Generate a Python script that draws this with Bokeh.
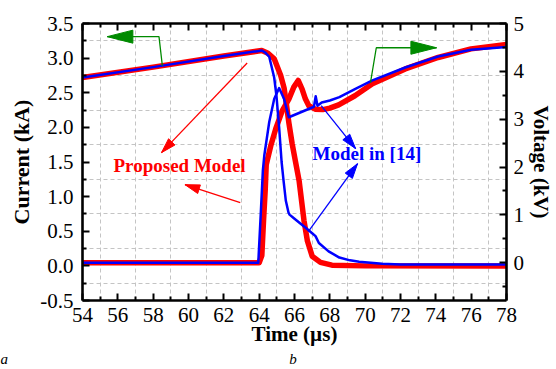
import math
from bokeh.plotting import figure
from bokeh.models import Range1d, LinearAxis, FixedTicker, Label, Title
from bokeh.embed import file_html
from bokeh.resources import INLINE

# ---------------- data ----------------
x_tick_values = [54, 56, 58, 60, 62, 64, 66, 68, 70, 72, 74, 76, 78]
x_tick_labels = ["54", "56", "58", "60", "62", "64", "66", "68", "70", "72", "74", "76", "78"]
i_tick_values = [-0.5, 0.0, 0.5, 1.0, 1.5, 2.0, 2.5, 3.0, 3.5]
i_tick_labels = ["-0.5", "0.0", "0.5", "1.0", "1.5", "2.0", "2.5", "3.0", "3.5"]
v_tick_values = [0, 1, 2, 3, 4, 5]
v_tick_labels = ["0", "1", "2", "3", "4", "5"]

# Proposed model (red)
red_cur_t = [54, 58, 62, 64.15, 64.5, 64.85, 65.22, 65.41, 65.50, 65.68, 65.87, 66.06,
             66.26, 66.54, 66.73, 67.0, 67.47, 68.12, 70, 78]
red_cur = [2.72, 2.87, 3.03, 3.11, 3.07, 2.99, 2.75, 2.57, 2.41, 2.07, 1.76, 1.50,
           1.23, 0.65, 0.36, 0.14, 0.05, 0.01, 0.0, 0.0]
red_v_t = [54, 64.0, 64.15, 64.25, 64.34, 64.40, 64.66, 64.94, 65.31, 65.68, 65.96, 66.21,
           66.43, 66.62, 66.81, 67.17, 67.6, 68.0, 68.5, 69.42, 70.41, 72.27, 74.13, 75.99, 78]
red_v = [0, 0, 0.15, 0.9, 1.5, 2.05, 2.45, 2.80, 3.18, 3.42, 3.67, 3.81,
         3.63, 3.42, 3.28, 3.21, 3.20, 3.23, 3.30, 3.49, 3.74, 4.05, 4.29, 4.47, 4.56]

# Model in [14] (blue)
blue_cur_t = [54, 58, 62, 64.15, 64.35, 64.57, 64.85, 64.98, 65.13, 65.27, 65.38, 65.51,
              65.66, 65.72, 66.0, 66.63, 67.0, 67.19, 67.38, 67.93, 68.54, 69.14, 69.66,
              70.96, 72, 78]
blue_cur = [2.72, 2.87, 3.03, 3.11, 3.08, 3.02, 2.72, 2.45, 2.00, 1.50, 1.23, 0.94,
            0.77, 0.74, 0.68, 0.55, 0.47, 0.43, 0.33, 0.21, 0.12, 0.08, 0.06,
            0.03, 0.02, 0.02]
blue_v_t = [54, 63.95, 64.08, 64.21, 64.29, 64.57, 64.85, 65.13, 65.41, 65.68, 67.1, 67.2,
            67.3, 67.54, 68.0, 68.54, 69.42, 70.41, 72.27, 74.13, 75.99, 78]
blue_v = [0, 0, 0.95, 1.93, 2.24, 2.94, 3.42, 3.65, 3.42, 3.04, 3.26, 3.48,
          3.28, 3.35, 3.39, 3.46, 3.63, 3.81, 4.08, 4.31, 4.45, 4.51]

# ---------------- figure ----------------
XR = (54, 78)
YL = (-0.5, 3.5)
YV = (-0.79, 5.0)
W, H = 556, 369
MB_L, MB_R, MB_T, MB_B = 82, 44, 23, 69
FW, FH = W - MB_L - MB_R, H - MB_T - MB_B
kx = FW / (XR[1] - XR[0])
ky = FH / (YL[1] - YL[0])

FONT = "Liberation Serif"

p = figure(width=W, height=H, output_backend="svg", toolbar_location=None,
           x_range=Range1d(*XR), y_range=Range1d(*YL),
           min_border_left=MB_L, min_border_right=MB_R,
           min_border_top=MB_T, min_border_bottom=MB_B)
p.extra_y_ranges = {"v": Range1d(*YV)}
p.outline_line_color = None
p.background_fill_color = "white"
p.border_fill_color = "white"

# grids on the minor positions
p.xgrid.ticker = FixedTicker(ticks=[t + 1 for t in x_tick_values[:-1]])
p.ygrid.ticker = FixedTicker(ticks=[t + 0.25 for t in i_tick_values[:-1]])
for g in (p.xgrid, p.ygrid):
    g.grid_line_color = "#c4c4c4"
    g.grid_line_dash = "4 3"
    g.grid_line_width = 1


def style_axis(ax, standoff, size="21px"):
    ax.axis_line_width = 2.6
    ax.axis_line_color = "black"
    ax.major_tick_line_width = 2
    ax.minor_tick_line_width = 2
    ax.major_tick_in = 7
    ax.major_tick_out = 0
    ax.minor_tick_in = 4
    ax.minor_tick_out = 0
    ax.major_label_standoff = standoff
    ax.major_label_text_font = FONT
    ax.major_label_text_color = "black"
    ax.major_label_text_font_size = size
    ax.axis_label_text_font = FONT
    ax.axis_label_text_font_style = "bold"
    ax.axis_label_text_color = "black"


xticker = FixedTicker(ticks=x_tick_values, minor_ticks=[t + 1 for t in x_tick_values[:-1]])
iticker = FixedTicker(ticks=i_tick_values, minor_ticks=[t + 0.25 for t in i_tick_values[:-1]])
vticker = FixedTicker(ticks=v_tick_values, minor_ticks=[-0.5] + [t + 0.5 for t in v_tick_values[:-1]])

xa = p.xaxis[0]
xa.ticker = xticker
xa.major_label_overrides = dict(zip(x_tick_values, x_tick_labels))
style_axis(xa, 7)
xa.axis_label = "Time (µs)"
xa.axis_label_text_font_size = "21px"
xa.axis_label_standoff = -3

ya = p.yaxis[0]
ya.ticker = iticker
ya.major_label_overrides = dict(zip(i_tick_values, i_tick_labels))
style_axis(ya, 9)
ya.axis_label = "Current (kA)"
ya.axis_label_text_font_size = "22px"
ya.axis_label_standoff = 3

top = LinearAxis(ticker=xticker)
style_axis(top, 0, size="1px")
top.major_label_overrides = {t: "" for t in x_tick_values}
p.add_layout(top, "above")

ra = LinearAxis(y_range_name="v", ticker=vticker)
ra.major_label_overrides = dict(zip(v_tick_values, v_tick_labels))
style_axis(ra, 7)
ra.axis_label = "Voltage (kV)"
ra.axis_label_text_font_size = "21px"
ra.axis_label_standoff = 2
p.add_layout(ra, "right")

# stray sub-figure letters of the original page, kept as text under the axis
p.add_layout(Title(text="a" + "\u00a0" * 75 + "b", align="left", offset=-MB_L,
                   text_font=FONT, text_font_size="15px", text_font_style="italic",
                   text_color="black", standoff=0), "below")

# ---------------- curves ----------------
RED, BLUE, GREEN = "#ff0000", "#0000ff", "#008a00"
p.line(red_cur_t, red_cur, line_color=RED, line_width=5.5, line_join="round")
p.line(red_v_t, red_v, line_color=RED, line_width=5.5, line_join="round", y_range_name="v")
p.line(blue_cur_t, blue_cur, line_color=BLUE, line_width=2.5, line_join="round")
p.line(blue_v_t, blue_v, line_color=BLUE, line_width=2.5, line_join="round", y_range_name="v")


# ---------------- annotations ----------------
def head(tip, tail, L, Wd):
    dx = (tip[0] - tail[0]) * kx
    dy = (tip[1] - tail[1]) * ky
    n = math.hypot(dx, dy)
    ux, uy = dx / n, dy / n
    bx, by = -L * ux, -L * uy
    nx, ny = -uy * Wd, ux * Wd
    xs = [tip[0], tip[0] + (bx + nx) / kx, tip[0] + (bx - nx) / kx]
    ys = [tip[1], tip[1] + (by + ny) / ky, tip[1] + (by - ny) / ky]
    return xs, ys


def arrow(path, tip, color, L, Wd, lw=1.3):
    xs = [q[0] for q in path] + [tip[0]]
    ys = [q[1] for q in path] + [tip[1]]
    p.line(xs, ys, line_color=color, line_width=lw)
    hx, hy = head(tip, path[-1], L, Wd)
    p.patch(hx, hy, fill_color=color, line_color=color, line_width=1)


arrow([(58.52, 2.89), (58.33, 3.31)], (55.40, 3.31), GREEN, 26, 6.5)
arrow([(70.30, 2.645), (70.63, 3.15)], (74.04, 3.15), GREEN, 26, 6.5)
arrow([(63.32, 2.93)], (58.47, 1.635), RED, 15, 4.5)
arrow([(62.93, 0.914)], (59.80, 1.173), RED, 15, 4.5)
arrow([(67.51, 2.313)], (69.46, 1.693), BLUE, 15, 4.5)
arrow([(66.78, 0.495)], (69.57, 1.476), BLUE, 15, 4.5)

p.add_layout(Label(x=31, y=135, x_units="screen", y_units="screen", text="Proposed Model",
                   text_font=FONT, text_font_size="19px", text_font_style="bold",
                   text_color=RED, text_align="left", text_baseline="middle"))
p.add_layout(Label(x=230, y=147, x_units="screen", y_units="screen", text="Model in [14]",
                   text_font=FONT, text_font_size="19px", text_font_style="bold",
                   text_color=BLUE, text_align="left", text_baseline="middle"))

open("out.html", "w").write(file_html(p, INLINE))
